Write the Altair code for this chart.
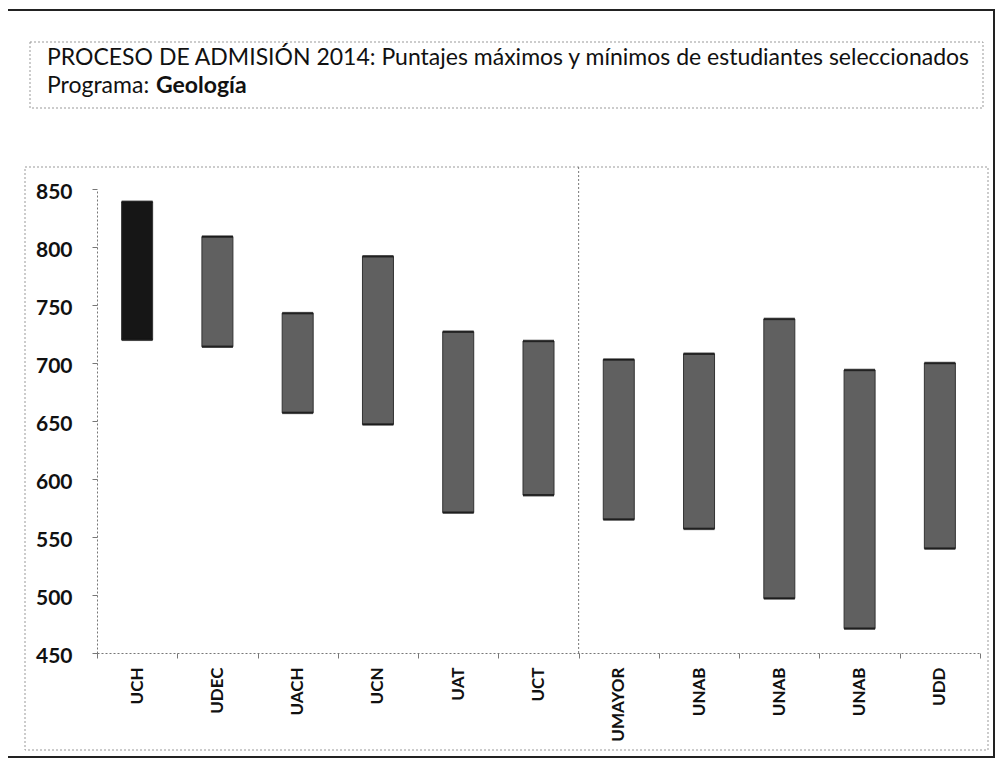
import altair as alt
import pandas as pd

# ---- data ----
keys = ["UCH", "UDEC", "UACH", "UCN", "UAT", "UCT", "UMAYOR", "UNAB_1", "UNAB_2", "UNAB_3", "UDD"]
max_scores = [839, 809, 743, 792, 727, 719, 703, 708, 738, 694, 700]
min_scores = [720, 714, 657, 647, 571, 586, 565, 557, 497, 471, 540]
highlight = ["UCH"]
y_ticks = [450, 500, 550, 600, 650, 700, 750, 800, 850]
title_line1 = "PROCESO DE ADMISIÓN 2014: Puntajes máximos y mínimos de estudiantes seleccionados"
title_line2a = "Programa:"
title_line2b = "Geología"
separator_before = ["UMAYOR"]

FONT = "Lato"
W, H = 883, 464

df = pd.DataFrame({"key": keys, "max": max_scores, "min": min_scores})
df["grp"] = ["dark" if k in highlight else "gray" for k in keys]

xscale = alt.Scale(domain=keys, paddingInner=0, paddingOuter=0)
yscale = alt.Scale(domain=[450, 850], nice=False, zero=False)

xaxis = alt.Axis(
    title=None, labelAngle=-90, labelAlign="right", labelBaseline="middle",
    labelExpr="split(datum.label, '_')[0]", labelFont=FONT, labelFontSize=17,
    labelFontWeight="bold", labelColor="#111", labelPadding=9,
    tickBand="extent", tickSize=5, tickColor="#777",
    domainColor="#777", domainDash=[2, 2], labelFlush=False,
)
yaxis = alt.Axis(
    title=None, values=y_ticks, labelFont=FONT, labelFontSize=21, labelFontWeight="bold",
    labelColor="#111", labelPadding=20, labelOffset=3, tickSize=5,
    tickColor="#777", domainColor="#777", domainDash=[2, 2], grid=False,
)

base = alt.Chart(df)

bars = base.mark_bar(size=31, stroke="#333", strokeWidth=1).encode(
    x=alt.X("key:N", scale=xscale, axis=xaxis, sort=keys),
    y=alt.Y("min:Q", scale=yscale, axis=yaxis),
    y2="max:Q",
    color=alt.Color("grp:N", scale=alt.Scale(domain=["dark", "gray"], range=["#161616", "#606060"]), legend=None),
)
cap_top = base.mark_tick(size=31, thickness=2.5, color="#111").encode(
    x=alt.X("key:N", scale=xscale, sort=keys), y=alt.Y("max:Q", scale=yscale)
)
cap_bot = base.mark_tick(size=31, thickness=2.5, color="#111").encode(
    x=alt.X("key:N", scale=xscale, sort=keys), y=alt.Y("min:Q", scale=yscale)
)

sep = alt.Chart(pd.DataFrame({"key": separator_before})).mark_rule(
    color="#777", strokeDash=[2, 2], strokeWidth=1
).encode(
    x=alt.X("key:N", scale=xscale, bandPosition=0, sort=keys),
    y=alt.value(-22), y2=alt.value(H),
)

one = pd.DataFrame({"a": [0]})
outer = alt.Chart(one).mark_rect(fill=None, stroke="#222", strokeWidth=2).encode(
    x=alt.value(-92), x2=alt.value(897), y=alt.value(-179), y2=alt.value(568)
)
title_box = alt.Chart(one).mark_rect(fill=None, stroke="#999", strokeWidth=1, strokeDash=[2, 2]).encode(
    x=alt.value(-67), x2=alt.value(886), y=alt.value(-147), y2=alt.value(-81)
)
chart_box = alt.Chart(one).mark_rect(fill=None, stroke="#999", strokeWidth=1, strokeDash=[2, 2]).encode(
    x=alt.value(-72), x2=alt.value(891), y=alt.value(-22), y2=alt.value(561)
)

t1 = alt.Chart(pd.DataFrame({"t": [title_line1]})).mark_text(
    align="left", baseline="alphabetic", font=FONT, fontSize=23, color="#111"
).encode(text="t:N", x=alt.value(-50), y=alt.value(-124))
t2a = alt.Chart(pd.DataFrame({"t": [title_line2a]})).mark_text(
    align="left", baseline="alphabetic", font=FONT, fontSize=23, color="#111"
).encode(text="t:N", x=alt.value(-50), y=alt.value(-96))
t2b = alt.Chart(pd.DataFrame({"t": [title_line2b]})).mark_text(
    align="left", baseline="alphabetic", font=FONT, fontSize=23, fontWeight="bold", color="#111"
).encode(text="t:N", x=alt.value(59), y=alt.value(-96))

chart = alt.layer(
    outer, title_box, chart_box, sep, bars, cap_top, cap_bot, t1, t2a, t2b
).properties(
    width=W, height=H,
    autosize=alt.AutoSizeParams(type="none"),
    padding={"left": 89, "top": 181, "right": 15, "bottom": 105},
    background="white",
).configure_view(stroke=None)

chart.save("out.html", embed_options={"renderer": "svg", "actions": False})
